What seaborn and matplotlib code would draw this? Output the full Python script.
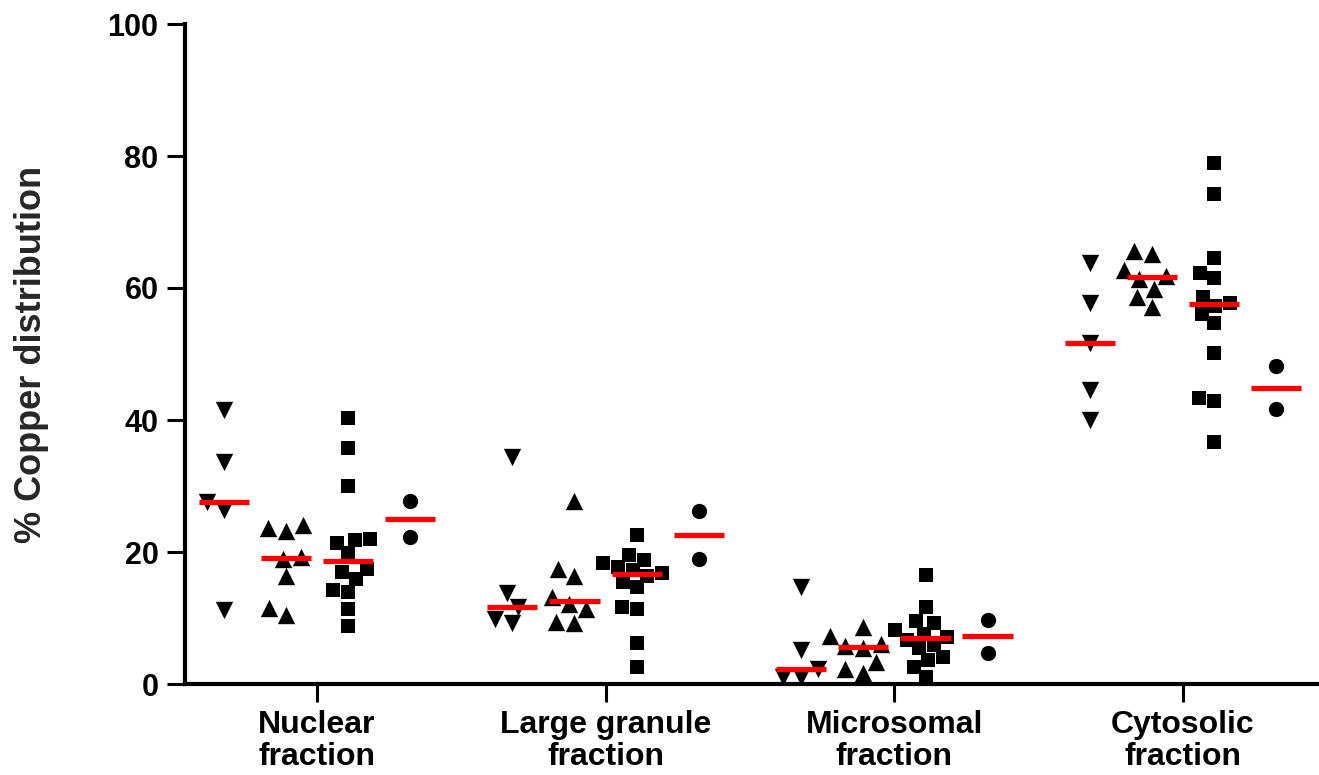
import numpy as np
import pandas as pd
import matplotlib
matplotlib.use("Agg")
import matplotlib.pyplot as plt
import seaborn as sns

# ---- data ----
fractions = ["Nuclear\nfraction", "Large granule\nfraction", "Microsomal\nfraction", "Cytosolic\nfraction"]
groups = ["down", "up", "square", "circle"]

down_vals = [
    [41.5, 33.7, 27.6, 26.4, 11.2],
    [34.4, 13.8, 11.7, 9.2, 9.9],
    [14.7, 5.2, 2.2, 1.1, 1.1],
    [63.8, 57.8, 51.6, 44.5, 40.0],
]
up_vals = [
    [24.1, 23.2, 23.6, 19.3, 18.9, 16.3, 10.5, 11.5],
    [27.8, 17.4, 16.3, 13.2, 11.3, 12.1, 9.3, 9.4],
    [8.7, 7.2, 6.0, 5.7, 5.4, 3.4, 2.2, 1.6],
    [65.2, 65.6, 62.7, 61.8, 61.4, 59.8, 58.7, 57.1],
]
square_vals = [
    [40.3, 35.7, 30.0, 21.9, 21.3, 21.8, 19.8, 17.4, 16.9, 15.9, 14.0, 14.3, 11.3, 8.8],
    [22.6, 19.5, 18.8, 18.3, 17.8, 17.3, 16.8, 16.4, 15.5, 14.7, 11.6, 11.4, 6.2, 2.6],
    [16.5, 11.7, 9.5, 9.3, 8.2, 7.6, 7.1, 6.7, 5.9, 5.4, 4.1, 3.6, 2.6, 1.1],
    [79.0, 74.2, 64.5, 62.2, 61.5, 57.8, 57.3, 58.7, 56.1, 54.7, 50.2, 43.4, 42.9, 36.6],
]
circle_vals = [
    [27.8, 22.2],
    [26.2, 19.0],
    [9.7, 4.7],
    [48.2, 41.6],
]

values_by_group = {"down": down_vals, "up": up_vals, "square": square_vals, "circle": circle_vals}
markers = {"down": "v", "up": "^", "square": "s", "circle": "o"}
offsets = {"down": -0.323, "up": -0.108, "square": 0.108, "circle": 0.323}
marker_sizes = {"down": 12.5, "up": 12.5, "square": 10.5, "circle": 11}

rows = []
for g in groups:
    for i, vals in enumerate(values_by_group[g]):
        for v in vals:
            rows.append({"group": g, "fraction": i, "xpos": i + offsets[g], "value": v})
df = pd.DataFrame(rows)

# ---- style ----
sns.set_theme(style="ticks")
plt.rcParams["font.family"] = ["Liberation Sans", "DejaVu Sans"]
plt.rcParams["font.weight"] = "bold"

fig = plt.figure(figsize=(13.19, 7.75), dpi=100)
ax = fig.add_axes([185 / 1319, 1 - 684 / 775, 1 - 185 / 1319, (684 - 24) / 775])

for g in groups:
    sub = df[df["group"] == g]
    sns.swarmplot(data=sub, x="xpos", y="value", native_scale=True, marker=markers[g],
                  color="black", size=marker_sizes[g], linewidth=0, ax=ax, zorder=3,
                  warn_thresh=1.0)

# medians
med = df.groupby(["fraction", "group"])["value"].median().reset_index()
for _, r in med.iterrows():
    xc = r["fraction"] + offsets[r["group"]]
    ax.hlines(r["value"], xc - 0.087, xc + 0.087, colors="#ff0000", linewidth=3.8, zorder=5)

ax.set_xlim(-0.457, 3.471)
ax.set_ylim(0, 100)
ax.set_xticks(range(len(fractions)))
ax.set_xticklabels(fractions, fontsize=23, fontweight="bold", linespacing=1.05)
ax.set_yticks([0, 20, 40, 60, 80, 100])
ax.set_yticklabels(["0", "20", "40", "60", "80", "100"], fontsize=22, fontweight="bold")
ax.set_xlabel("")
ax.set_ylabel("% Copper distribution", fontsize=26, fontweight="bold", labelpad=42)

for s in ["top", "right"]:
    ax.spines[s].set_visible(False)
for s in ["left", "bottom"]:
    ax.spines[s].set_linewidth(3)
    ax.spines[s].set_color("black")
ax.tick_params(axis="both", length=13, width=2.2, color="black", labelcolor="black")
ax.tick_params(axis="y", pad=6)
ax.tick_params(axis="x", pad=6)

fig.savefig("out.png", dpi=100)
